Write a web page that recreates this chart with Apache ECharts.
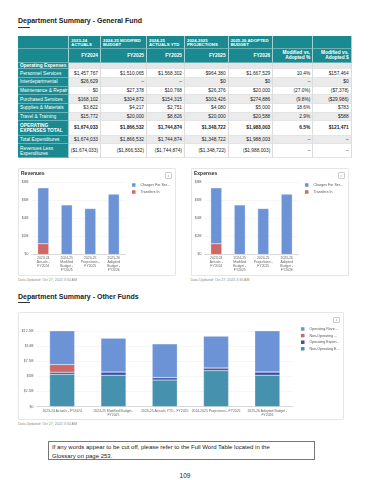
<!DOCTYPE html>
<html><head><meta charset="utf-8">
<script src="https://cdn.jsdelivr.net/npm/echarts@6/dist/echarts.min.js"></script>
<style>
html,body{margin:0;padding:0}
body{width:370px;height:480px;background:#fff;font-family:"Liberation Sans",Arial,sans-serif;position:relative;overflow:hidden;color:#222}
.a{position:absolute;box-sizing:border-box}
.h1{font-weight:bold;font-size:7px;color:#222;white-space:nowrap}
.ul{height:1px;background:#333;width:12px}
.c{display:flex;align-items:center;justify-content:flex-end;padding-right:2px;font-size:4.8px;white-space:pre;line-height:5px;text-align:right;border-right:0.5px solid #dcdcdc;border-bottom:0.5px solid #e4e4e4}
.t{background:#1a8a90;color:#fff;border-right:0.5px solid rgba(255,255,255,.6);border-bottom:0.5px solid rgba(255,255,255,.35)}
.lab{justify-content:flex-start;padding-left:2px;text-align:left}
.hd{align-items:flex-start;justify-content:flex-start;padding-left:2px;padding-top:2.5px;font-weight:bold;font-size:4.3px;line-height:4.6px;text-align:left}
.b{font-weight:bold}
.card{border:1px solid #e6e6e6;border-radius:1px;background:#fff}
.info{border:0.5px solid #ccc;border-radius:1px;font-size:4px;color:#777;display:flex;align-items:center;justify-content:center;background:#fff}
.upd{font-size:3.6px;color:#8a8a8a;white-space:nowrap}
.note{border:0.8px solid #777;font-size:6px;line-height:9px;padding-left:3.5px;padding-top:0.5px;color:#222;white-space:nowrap}
</style></head><body>
<div class="a h1" style="left:18px;top:17px">Department Summary - General Fund</div>
<div class="a ul" style="left:18px;top:26.5px"></div>
<div id="tbl"></div>

<div class="a card" style="left:18px;top:167.5px;width:158px;height:108px"></div>
<div class="a" id="rev" style="left:18px;top:167.5px;width:158px;height:108px"></div>
<div class="a info" style="left:165px;top:171.5px;width:7px;height:7px">i</div>
<div class="a upd" style="left:18px;top:277.5px">Data Updated: Oct 27, 2025 3:30 AM</div>

<div class="a card" style="left:190.5px;top:167.5px;width:158px;height:108px"></div>
<div class="a" id="exp" style="left:190.5px;top:167.5px;width:158px;height:108px"></div>
<div class="a info" style="left:337.5px;top:171.5px;width:7px;height:7px">i</div>
<div class="a upd" style="left:190.5px;top:277.5px">Data Updated: Oct 27, 2025 3:30 AM</div>

<div class="a h1" style="left:18px;top:293px">Department Summary - Other Funds</div>
<div class="a ul" style="left:18px;top:302px"></div>

<div class="a card" style="left:18px;top:311.5px;width:326px;height:108px"></div>
<div class="a" id="oth" style="left:18px;top:311.5px;width:326px;height:108px"></div>
<div class="a info" style="left:333px;top:316.5px;width:6.5px;height:6.5px">i</div>
<div class="a upd" style="left:18px;top:422px">Data Updated: Oct 27, 2025 3:30 AM</div>

<div class="a note" style="left:47.5px;top:441px;width:267.5px;height:18.5px"><span>If any words appear to be cut off, please refer to the Full Word Table located in the</span><br><span>Glossary on page 253.</span></div>
<div class="a" style="left:0;width:370px;top:471.5px;text-align:center;font-size:6.5px;color:#222">109</div>

<script>
// ---------- Table data ----------
const tableHeaderYears = ["2023-24\nACTUALS","2024-25 MODIFIED\nBUDGET","2024-25\nACTUALS YTD","2024-2025\nPROJECTIONS","2025-26 ADOPTED\nBUDGET","",""];
const tableHeaderFY = ["FY2024","FY2025","FY2025","FY2025","FY2026","Modified vs.\nAdopted %","Modified vs.\nAdopted $"];
const tableRowLabels = ["Operating Expenses","Personnel Services","Interdepartmental","Maintenance & Repair","Purchased Services","Supplies & Materials","Travel & Training","OPERATING\nEXPENSES TOTAL","Total Expenditures","Revenues Less\nExpenditures"];
const rowPersonnel   = ["$1,457,767","$1,510,065","$1,568,302","$964,380","$1,667,529","10.4%","$157,464"];
const rowInterdept   = ["$26,629","–","–","$0","$0","–","$0"];
const rowMaintenance = ["$0","$27,378","$10,768","$26,376","$20,000","(27.0%)","($7,378)"];
const rowPurchased   = ["$168,102","$304,872","$154,315","$303,426","$274,886","(9.8%)","($29,986)"];
const rowSupplies    = ["$3,822","$4,217","$2,751","$4,080","$5,000","18.6%","$783"];
const rowTravel      = ["$15,772","$20,000","$8,826","$20,000","$20,588","2.9%","$588"];
const rowOpTotal     = ["$1,674,033","$1,866,532","$1,744,874","$1,348,722","$1,988,003","6.5%","$121,471"];
const rowTotalExp    = ["$1,674,033","$1,866,532","$1,744,874","$1,348,722","$1,988,003","–","–"];
const rowRevLessExp  = ["($1,674,033)","($1,866,532)","($1,744,874)","($1,348,722)","($1,988,003)","–","–"];

// ---------- Chart data (values in $ millions) ----------
const revCategories = ["2023-24\nActuals -\nFY2024","2024-25\nModified\nBudget -\nFY2025","2024-25\nProjections -\nFY2025","2025-26\nAdopted\nBudget -\nFY2026"];
const revSeriesNames = ["Charges For Services","Transfers In"];
const revCharges  = [6.2, 5.5, 5.1, 6.7];
const revTransfers = [1.2, 0, 0, 0];
const expCategories = ["2023-24\nActuals -\nFY2024","2024-25\nModified\nBudget -\nFY2025","2024-25\nProjections -\nFY2025","2025-26\nAdopted\nBudget -\nFY2026"];
const expSeriesNames = ["Charges For Services","Transfers In"];
const expCharges  = [6.2, 5.5, 5.1, 6.7];
const expTransfers = [1.2, 0, 0, 0];
const smallTicks = ["$0","$2M","$4M","$6M","$8M"];

const othCategories = ["2023-24 Actuals - FY2024","2024-25 Modified Budget -\nFY2025","2024-25 Actuals YTD - FY2025","2024-2025 Projections - FY2025","2025-26 Adopted Budget -\nFY2026"];
const othSeriesNames = ["Operating Revenues","Non-Operating Revenues","Operating Expenses","Non-Operating Expenses"];
const othOpRev    = [6.15, 5.57, 5.56, 5.25, 6.79];
const othNonOpRev = [1.27, 0, 0, 0, 0];
const othOpExp    = [0.33, 0.55, 0.40, 0.43, 0.55];
const othNonOpExp = [5.35, 5.18, 4.40, 5.96, 5.18];
const othTicks = ["$0","$2.5M","$5M","$7.5M","$10M","$12.5M"];

// ---------- Build table ----------
const colX=[18,69.3,101,147,185,228.7,273.3,313.3,351.7];
const rowY=[36,49.3,62.7,69.3,78,86.7,95.3,104,112.7,121.3,135.7,144,158.3];
const tbl=document.getElementById('tbl');
function cell(r,c,text,cls,bg){
  const d=document.createElement('div');
  d.className='a c '+(cls||'');
  d.style.left=colX[c]+'px';d.style.top=rowY[r]+'px';
  d.style.width=(colX[c+1]-colX[c])+'px';d.style.height=(rowY[r+1]-rowY[r])+'px';
  if(bg)d.style.background=bg;
  d.textContent=text;tbl.appendChild(d);
}
cell(0,0,'','t');cell(1,0,'','t');
tableHeaderYears.forEach((t,i)=>cell(0,i+1,t,'t hd'));
tableHeaderFY.forEach((t,i)=>cell(1,i+1,t,'t b'));
const bodyRows=[null,rowPersonnel,rowInterdept,rowMaintenance,rowPurchased,rowSupplies,rowTravel,rowOpTotal,rowTotalExp,rowRevLessExp];
tableRowLabels.forEach((lab,i)=>{
  const r=i+2;
  const bold=(i===0||i===7);
  cell(r,0,lab,'t lab'+(bold?' b':''));
  const bg = i===0 ? '#e6e6e6' : (i%2===0 ? '#ebebeb' : '#ffffff');
  for(let c=1;c<=7;c++){
    const v=bodyRows[i]?bodyRows[i][c-1]:'';
    cell(r,c,v,bold?'b':'',bg);
  }
});

// ---------- Charts ----------
const cBlue='#6b93d6', cRed='#cf6767', cNavy='#3b51a3', cTeal='#4692ae';
const legendText={fontSize:3.6,lineHeight:4,color:'#555',fontFamily:'Liberation Sans',overflow:'truncate',ellipsis:'...'};
function smallChart(id,title,cats,names,charges,transfers){
  const ch=echarts.init(document.getElementById(id),null,{renderer:'canvas'});
  ch.setOption({
    animation:false,
    title:{text:title,left:3,top:3,padding:0,textStyle:{fontSize:5,fontWeight:'bold',color:'#333',fontFamily:'Liberation Sans'}},
    legend:{orient:'vertical',left:114,top:15,padding:0,itemWidth:3.5,itemHeight:3.5,itemGap:3,icon:'rect',
      itemStyle:{borderWidth:0},data:names,textStyle:Object.assign({width:32},legendText)},
    grid:{left:13.5,top:14.5,width:94,height:72},
    xAxis:{type:'category',data:cats,axisTick:{show:false},axisLine:{lineStyle:{color:'#c8c8c8',width:0.6}},
      axisLabel:{fontSize:3.4,lineHeight:4,color:'#666',interval:0,margin:2,fontFamily:'Liberation Sans'}},
    yAxis:{type:'value',min:0,max:8,interval:2,axisLine:{show:false},axisTick:{show:false},
      axisLabel:{formatter:v=>smallTicks[Math.round(v/2)],fontSize:3.5,color:'#666',margin:3,fontFamily:'Liberation Sans'},
      splitLine:{lineStyle:{color:'#ececec',width:0.5}}},
    series:[
      {type:'bar',name:names[1],stack:'s',data:transfers,barWidth:11,itemStyle:{color:cRed,borderColor:'#fff',borderWidth:0.3}},
      {type:'bar',name:names[0],stack:'s',data:charges,barWidth:11,itemStyle:{color:cBlue,borderColor:'#fff',borderWidth:0.3}}
    ]
  });
}
smallChart('rev','Revenues',revCategories,revSeriesNames,revCharges,revTransfers);
smallChart('exp','Expenses',expCategories,expSeriesNames,expCharges,expTransfers);

const oc=echarts.init(document.getElementById('oth'),null,{renderer:'canvas'});
oc.setOption({
  animation:false,
  legend:{orient:'vertical',left:283,top:15,padding:0,itemWidth:3.5,itemHeight:3.5,itemGap:2.6,icon:'rect',
    itemStyle:{borderWidth:0},data:othSeriesNames,textStyle:Object.assign({width:31},legendText)},
  grid:{left:18.5,top:19,width:256.5,height:75.6},
  xAxis:{type:'category',data:othCategories,axisTick:{show:false},axisLine:{lineStyle:{color:'#c8c8c8',width:0.6}},
    axisLabel:{fontSize:3.4,lineHeight:4,color:'#666',interval:0,margin:2.5,fontFamily:'Liberation Sans'}},
  yAxis:{type:'value',min:0,max:12.5,interval:2.5,axisLine:{show:false},axisTick:{show:false},
    axisLabel:{formatter:v=>othTicks[Math.round(v/2.5)],fontSize:3.5,color:'#666',margin:3,fontFamily:'Liberation Sans'},
    splitLine:{lineStyle:{color:'#ececec',width:0.5}}},
  series:[
    {type:'bar',name:othSeriesNames[3],stack:'s',data:othNonOpExp,barWidth:25,itemStyle:{color:cTeal,borderColor:'#fff',borderWidth:0.3}},
    {type:'bar',name:othSeriesNames[2],stack:'s',data:othOpExp,barWidth:25,itemStyle:{color:cNavy,borderColor:'#fff',borderWidth:0.3}},
    {type:'bar',name:othSeriesNames[1],stack:'s',data:othNonOpRev,barWidth:25,itemStyle:{color:cRed,borderColor:'#fff',borderWidth:0.3}},
    {type:'bar',name:othSeriesNames[0],stack:'s',data:othOpRev,barWidth:25,itemStyle:{color:cBlue,borderColor:'#fff',borderWidth:0.3}}
  ]
});
</script>
</body></html>
